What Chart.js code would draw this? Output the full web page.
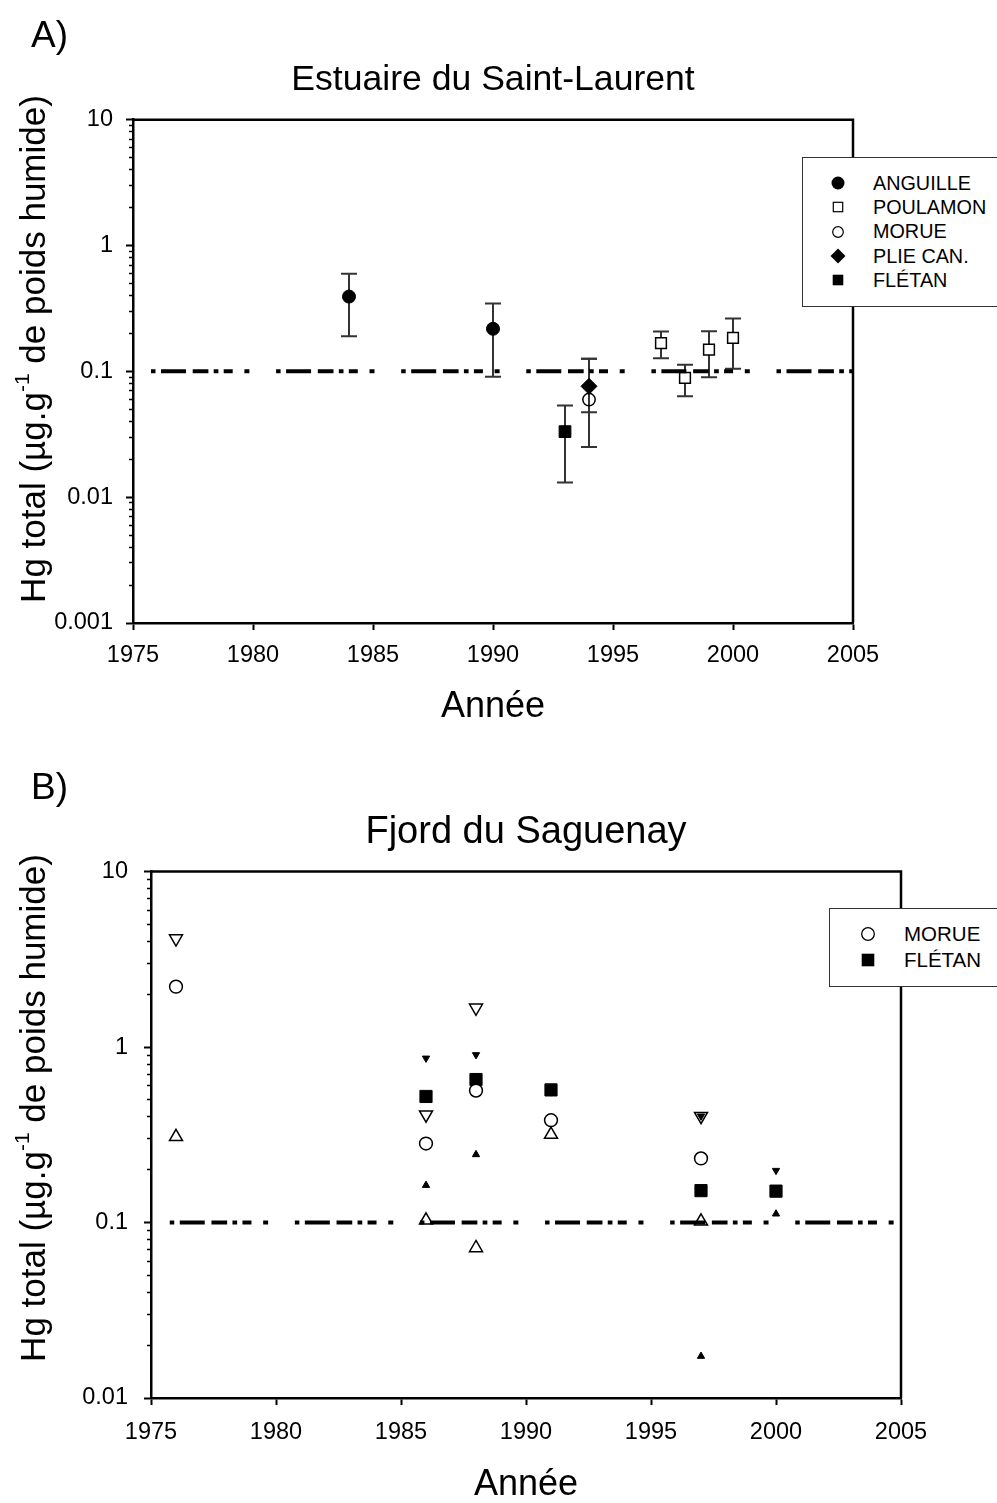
<!DOCTYPE html>
<html lang="fr">
<head>
<meta charset="utf-8">
<title>Hg total – Estuaire du Saint-Laurent / Fjord du Saguenay</title>
<script src="https://cdn.jsdelivr.net/npm/chart.js@4.4.1/dist/chart.umd.min.js"></script>
<style>
  html, body { margin: 0; padding: 0; }
  body {
    width: 997px; height: 1503px; position: relative; overflow: hidden;
    background: #fff; color: #000;
    font-family: 'Liberation Sans', Arial, sans-serif;
  }
  .panel { position: absolute; left: 0; width: 997px; }
  #panel-a { top: 0; height: 750px; }
  #panel-b { top: 750px; height: 753px; }
  .tag { position: absolute; left: 31px; font-size: 37px; line-height: 37px; }
  .ylabel {
    position: absolute; width: 640px; height: 40px; line-height: 40px;
    font-size: 35px; text-align: center; white-space: nowrap;
    transform: rotate(-90deg);
  }
  .ylabel .sup { position: relative; top: -0.75em; font-size: 0.6em; }
  .legend { position: absolute; border: 1px solid #333; background: #fff; box-sizing: border-box; }
  .legend .row { position: absolute; left: 0; right: 0; white-space: nowrap; }
  .legend svg { position: absolute; top: 50%; margin-top: -10px; }
  .legend span { position: absolute; }
</style>
</head>
<body>

<div id="panel-a" class="panel">
  <canvas id="chart-a"></canvas>
  <div class="tag" style="top:16px">A)</div>
  <div class="ylabel" style="left:-287px; top:329px">Hg total (µg.g<span class="sup">-1</span> de poids humide)</div>
  <div id="legend-a" class="legend" style="left:802px; top:157px; width:220px; height:150px"></div>
</div>

<div id="panel-b" class="panel">
  <canvas id="chart-b"></canvas>
  <div class="tag" style="top:18px">B)</div>
  <div class="ylabel" style="left:-287px; top:338px">Hg total (µg.g<span class="sup">-1</span> de poids humide)</div>
  <div id="legend-b" class="legend" style="left:829px; top:158px; width:190px; height:79px"></div>
</div>

<script>
// ── Data : Estuaire du Saint-Laurent (moyenne, barre basse, barre haute) ──
const anguilleYears = [1984, 1990];
const anguilleHg    = [0.393, 0.218];
const anguilleLow   = [0.19, 0.0904];
const anguilleHigh  = [0.596, 0.346];

const poulamonYears = [1997, 1998, 1999, 2000];
const poulamonHg    = [0.1675, 0.0887, 0.149, 0.1846];
const poulamonLow   = [0.127, 0.0634, 0.0898, 0.105];
const poulamonHigh  = [0.207, 0.113, 0.208, 0.263];

const morueEstYears = [1994];
const morueEstHg    = [0.0597];
const morueEstLow   = [0.0251];
const morueEstHigh  = [0.1257];

const plieYears = [1994];
const plieHg    = [0.0761];
const plieLow   = [0.0473];
const plieHigh  = [0.1257];

const fletanEstYears = [1993];
const fletanEstHg    = [0.0332];
const fletanEstLow   = [0.0131];
const fletanEstHigh  = [0.0535];

// ── Data : Fjord du Saguenay (moyenne, max, min) ──
const morueSagYears = [1976, 1986, 1988, 1991, 1997];
const morueSagHg    = [2.21, 0.282, 0.565, 0.383, 0.232];
const morueSagMax   = [4.15, 0.412, 1.675, null, 0.404];
const morueSagMin   = [0.308, 0.103, 0.0716, 0.317, 0.1016];

const fletanSagYears = [1986, 1988, 1991, 1997, 2000];
const fletanSagHg    = [0.523, 0.653, 0.57, 0.152, 0.151];
const fletanSagMax   = [0.864, 0.904, 0.555, 0.404, 0.198];
const fletanSagMin   = [0.163, 0.244, null, 0.0173, 0.112];

// ── Axes / ligne guide ──
const yearTicks   = [1975, 1980, 1985, 1990, 1995, 2000, 2005];
const decadesA    = [0.001, 0.01, 0.1, 1, 10];
const decadeLabA  = ['0.001', '0.01', '0.1', '1', '10'];
const decadesB    = [0.01, 0.1, 1, 10];
const decadeLabB  = ['0.01', '0.1', '1', '10'];
const guideYears  = [1975.75, 2005];
const guideLevel  = 0.1;

const FONT = "'Liberation Sans', Arial, sans-serif";
Chart.defaults.font.family = FONT;
Chart.defaults.color = '#000';

// ── Helpers ──
const pts = (xs, ys) => xs.map((x, i) => ({ x, y: ys[i] })).filter(p => p.y != null);

function logTicks(decades) {
  const ticks = [];
  decades.forEach((d, i) => {
    if (i === decades.length - 1) { ticks.push({ value: d }); return; }
    for (let m = 1; m <= 9; m++) ticks.push({ value: +(m * d).toPrecision(3) });
  });
  return ticks;
}

function guideDataset() {
  return {
    label: 'guide',
    data: guideYears.map(x => ({ x, y: guideLevel })),
    showLine: true,
    pointRadius: 0,
    borderColor: '#000',
    borderWidth: 4,
    borderCapStyle: 'butt',
    borderDash: [4.5, 5.5, 25, 6.7, 15.7, 5.3, 4.7, 5.3, 9, 11.7, 5, 26.7],
    order: 0
  };
}

// Error bars drawn through the chart's own scales
const errorBars = {
  id: 'errorBars',
  beforeDatasetsDraw(chart) {
    const { ctx, scales: { x, y } } = chart;
    ctx.save();
    ctx.strokeStyle = '#333';
    ctx.lineWidth = 2;
    chart.data.datasets.forEach((ds, i) => {
      if (!ds.errLow || !chart.isDatasetVisible(i)) return;
      ds.data.forEach((p, j) => {
        const px = x.getPixelForValue(p.x);
        const lo = y.getPixelForValue(ds.errLow[j]);
        const hi = y.getPixelForValue(ds.errHigh[j]);
        ctx.beginPath();
        ctx.moveTo(px, lo); ctx.lineTo(px, hi);
        ctx.moveTo(px - 8, lo); ctx.lineTo(px + 8, lo);
        ctx.moveTo(px - 8, hi); ctx.lineTo(px + 8, hi);
        ctx.stroke();
      });
    });
    ctx.restore();
  }
};

// Top and right sides of the frame
const frame = {
  id: 'frame',
  afterDatasetsDraw(chart) {
    const { ctx, chartArea: a } = chart;
    ctx.save();
    ctx.strokeStyle = '#000';
    ctx.lineWidth = 2.5;
    ctx.beginPath();
    ctx.moveTo(a.left, a.top);
    ctx.lineTo(a.right, a.top);
    ctx.lineTo(a.right, a.bottom);
    ctx.stroke();
    ctx.restore();
  }
};

function makeOptions(cfg) {
  const isMajor = v => cfg.decades.includes(v);
  return {
    responsive: true,
    maintainAspectRatio: false,
    animation: false,
    layout: { padding: { left: 0, right: cfg.padRight, top: 0, bottom: 0 } },
    plugins: {
      legend: { display: false },
      tooltip: { enabled: false },
      title: {
        display: true,
        text: cfg.title,
        fullSize: false,
        color: '#000',
        font: { size: cfg.titleSize, weight: 'normal', lineHeight: 1.2 },
        padding: { top: cfg.titlePadTop, bottom: cfg.titlePadBottom }
      }
    },
    scales: {
      x: {
        type: 'linear',
        min: yearTicks[0],
        max: yearTicks[yearTicks.length - 1],
        afterBuildTicks: s => { s.ticks = yearTicks.map(v => ({ value: v })); },
        afterFit: s => { s.height = cfg.xHeight; },
        ticks: { autoSkip: false, maxRotation: 0, padding: cfg.xTickPad, font: { size: 23.5 }, color: '#000', callback: v => String(v) },
        grid: { drawOnChartArea: false, drawTicks: true, tickLength: 7, tickWidth: 2, tickColor: '#000' },
        border: { display: true, color: '#000', width: 2.5 },
        title: { display: true, text: 'Année', color: '#000', font: { size: 36, lineHeight: 1 }, padding: { top: 0, bottom: cfg.xTitlePad } }
      },
      y: {
        type: 'logarithmic',
        min: cfg.decades[0],
        max: cfg.decades[cfg.decades.length - 1],
        afterBuildTicks: s => { s.ticks = logTicks(cfg.decades); },
        afterFit: s => { s.width = cfg.yWidth; },
        ticks: {
          autoSkip: false, padding: cfg.yTickPad, font: { size: 23.5 }, color: '#000',
          callback: v => { const k = cfg.decades.indexOf(v); return k >= 0 ? cfg.decadeLabels[k] : ''; }
        },
        grid: {
          drawOnChartArea: false, drawTicks: true, tickLength: 7, tickColor: '#000',
          tickWidth: c => (c.tick && isMajor(c.tick.value)) ? 2 : 1.5,
          tickBorderDash: c => (c.tick && isMajor(c.tick.value)) ? [] : [0, 3, 4, 20]
        },
        border: { display: true, color: '#000', width: 2.5 }
      }
    }
  };
}

// ── Chart A : Estuaire du Saint-Laurent ──
new Chart(document.getElementById('chart-a'), {
  type: 'scatter',
  data: {
    datasets: [
      guideDataset(),
      { label: 'ANGUILLE', data: pts(anguilleYears, anguilleHg), errLow: anguilleLow, errHigh: anguilleHigh,
        pointStyle: 'circle', pointRadius: 6.5, backgroundColor: '#000', borderColor: '#000', borderWidth: 1, order: 1 },
      { label: 'POULAMON', data: pts(poulamonYears, poulamonHg), errLow: poulamonLow, errHigh: poulamonHigh,
        pointStyle: 'rect', pointRadius: 7.6, backgroundColor: '#fff', borderColor: '#000', borderWidth: 1.5, order: 1 },
      { label: 'MORUE', data: pts(morueEstYears, morueEstHg), errLow: morueEstLow, errHigh: morueEstHigh,
        pointStyle: 'circle', pointRadius: 6.2, backgroundColor: 'rgba(0,0,0,0)', borderColor: '#000', borderWidth: 1.5, order: 2 },
      { label: 'PLIE CAN.', data: pts(plieYears, plieHg), errLow: plieLow, errHigh: plieHigh,
        pointStyle: 'rectRot', pointRadius: 8, backgroundColor: '#000', borderColor: '#000', borderWidth: 1, order: 1 },
      { label: 'FLÉTAN', data: pts(fletanEstYears, fletanEstHg), errLow: fletanEstLow, errHigh: fletanEstHigh,
        pointStyle: 'rect', pointRadius: 8.3, backgroundColor: '#000', borderColor: '#000', borderWidth: 1, order: 1 }
    ]
  },
  options: makeOptions({
    title: 'Estuaire du Saint-Laurent', titleSize: 35.6, titlePadTop: 59, titlePadBottom: 18,
    padRight: 144, yWidth: 133, xHeight: 127, xTickPad: 11, yTickPad: 13, xTitlePad: 25,
    decades: decadesA, decadeLabels: decadeLabA
  }),
  plugins: [errorBars, frame]
});

// ── Chart B : Fjord du Saguenay ──
new Chart(document.getElementById('chart-b'), {
  type: 'scatter',
  data: {
    datasets: [
      guideDataset(),
      { label: 'MORUE', data: pts(morueSagYears, morueSagHg),
        pointStyle: 'circle', pointRadius: 6.4, backgroundColor: '#fff', borderColor: '#000', borderWidth: 1.5, order: 1 },
      { label: 'FLÉTAN', data: pts(fletanSagYears, fletanSagHg),
        pointStyle: 'rect', pointRadius: 8.6, backgroundColor: '#000', borderColor: '#000', borderWidth: 1, order: 1 },
      { label: 'FLÉTAN max', data: pts(fletanSagYears, fletanSagMax),
        pointStyle: 'triangle', rotation: 180, pointRadius: 4.2, backgroundColor: '#000', borderColor: '#000', borderWidth: 1, order: 2 },
      { label: 'FLÉTAN min', data: pts(fletanSagYears, fletanSagMin),
        pointStyle: 'triangle', pointRadius: 4.2, backgroundColor: '#000', borderColor: '#000', borderWidth: 1, order: 2 },
      { label: 'MORUE max', data: pts(morueSagYears, morueSagMax),
        pointStyle: 'triangle', rotation: 180, pointRadius: 7.5, backgroundColor: '#fff', borderColor: '#000', borderWidth: 1.5, order: 3 },
      { label: 'MORUE min', data: pts(morueSagYears, morueSagMin),
        pointStyle: 'triangle', pointRadius: 7.5, backgroundColor: '#fff', borderColor: '#000', borderWidth: 1.5, order: 3 }
    ]
  },
  options: makeOptions({
    title: 'Fjord du Saguenay', titleSize: 38, titlePadTop: 60, titlePadBottom: 16,
    padRight: 96, yWidth: 151, xHeight: 105, xTickPad: 13, yTickPad: 16, xTitlePad: 0,
    decades: decadesB, decadeLabels: decadeLabB
  }),
  plugins: [frame]
});

// ── Legends (HTML) ──
const SYMBOLS = {
  filledCircle: '<circle cx="10" cy="10" r="6.5" fill="#000"/>',
  openSquare:   '<rect x="5.3" y="5.3" width="9.4" height="9.4" fill="#fff" stroke="#000" stroke-width="1.2"/>',
  openCircle:   '<circle cx="10" cy="10" r="5.3" fill="none" stroke="#000" stroke-width="1.2"/>',
  diamond:      '<polygon points="10,2.5 17.5,10 10,17.5 2.5,10" fill="#000"/>',
  filledSquare: '<rect x="4.7" y="4.7" width="10.6" height="10.6" fill="#000"/>',
  openCircleB:  '<circle cx="10" cy="10" r="6.3" fill="none" stroke="#000" stroke-width="1.3"/>',
  filledSquareB:'<rect x="3.7" y="3.7" width="12.6" height="12.6" fill="#000"/>'
};

function buildLegend(el, names, symbols, cfg) {
  names.forEach((name, i) => {
    const row = document.createElement('div');
    row.className = 'row';
    row.style.top = (cfg.first + i * cfg.step - cfg.step / 2) + 'px';
    row.style.height = cfg.step + 'px';
    row.style.lineHeight = cfg.step + 'px';
    row.style.fontSize = cfg.fontSize + 'px';
    row.innerHTML = `<svg width="20" height="20" viewBox="0 0 20 20" style="left:${cfg.symX - 10}px">${SYMBOLS[symbols[i]]}</svg>` +
                    `<span style="left:${cfg.textX}px">${name}</span>`;
    el.appendChild(row);
  });
}

buildLegend(document.getElementById('legend-a'),
  ['ANGUILLE', 'POULAMON', 'MORUE', 'PLIE CAN.', 'FLÉTAN'],
  ['filledCircle', 'openSquare', 'openCircle', 'diamond', 'filledSquare'],
  { first: 25, step: 24.3, symX: 35, textX: 70, fontSize: 19.8 });

buildLegend(document.getElementById('legend-b'),
  ['MORUE', 'FLÉTAN'],
  ['openCircleB', 'filledSquareB'],
  { first: 25, step: 26, symX: 38, textX: 74, fontSize: 20.5 });
</script>
</body>
</html>
